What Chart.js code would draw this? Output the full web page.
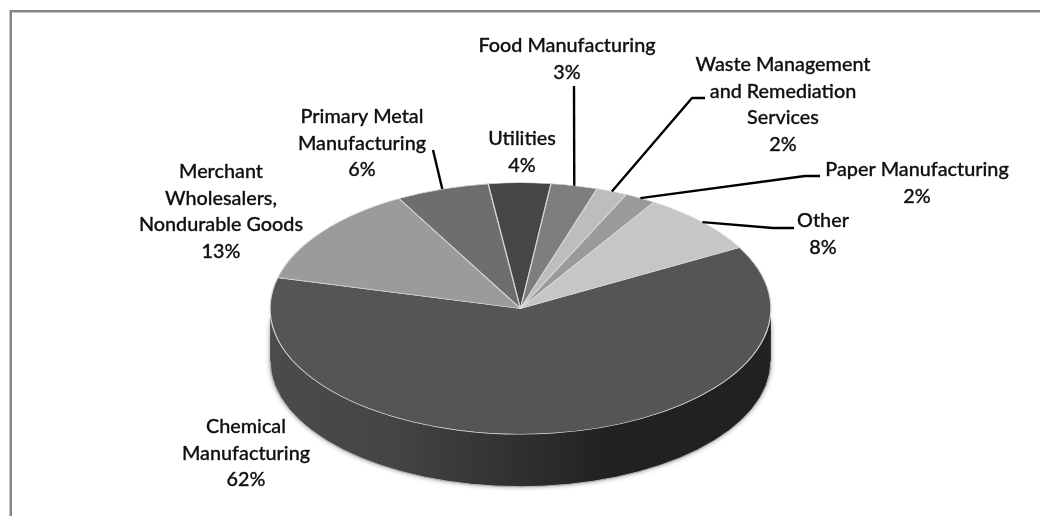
<!DOCTYPE html>
<html>
<head>
<meta charset="utf-8">
<style>
  html, body { margin: 0; padding: 0; background: #fff; }
  #wrap { width: 1040px; height: 516px; position: relative; }
</style>
<script src="https://cdn.jsdelivr.net/npm/chart.js@4"></script>
</head>
<body>
<div id="wrap"><canvas id="pie" width="1040" height="516"></canvas></div>
<script>
const categories = ['Chemical Manufacturing', 'Merchant Wholesalers, Nondurable Goods', 'Primary Metal Manufacturing',
  'Utilities', 'Food Manufacturing', 'Waste Management and Remediation Services', 'Paper Manufacturing', 'Other'];
const shares = [62, 13, 6, 4, 3, 2, 2, 8];
const sliceColors = ['#555555', '#9b9b9b', '#6e6e6e', '#464646', '#7e7e7e', '#bdbdbd', '#9a9a9a', '#c6c6c6'];

// Wrapped label lines, centre x, and y of the first line centre, per slice.
const labelLines = [
  ['Chemical', 'Manufacturing'],
  ['Merchant', 'Wholesalers,', 'Nondurable Goods'],
  ['Primary Metal', 'Manufacturing'],
  ['Utilities'],
  ['Food Manufacturing'],
  ['Waste Management', 'and Remediation', 'Services'],
  ['Paper Manufacturing'],
  ['Other']
];
const labelX = [246, 221, 362, 522, 567, 783, 917, 823];
const labelY = [427, 172, 117, 139, 46, 65, 170, 221];
// Leader polylines run from the slice rim through these elbows; null means no leader.
const leaderElbows = [
  null, null,
  [[433, 150]],
  null,
  [[574, 86]],
  [[692, 98], [705, 98]],
  [[805, 176], [820, 176]],
  [[773, 228], [794, 228]]
];

const TILT = 126 / 251;      // vertical squash of the pie disc
const DEPTH = 52.5;          // height of the extruded side
const CENTER_Y = 308.5;      // where the disc centre sits on the page
const LINE_H = 26.4;

const tiltedPie = {
  id: 'tiltedPie',
  beforeDraw(chart) {
    const c = chart.ctx;
    c.save();
    c.fillStyle = '#ffffff';
    c.fillRect(0, 0, chart.width, chart.height);
    // The frame only shows along its top and left edges.
    c.fillStyle = '#868686';
    c.fillRect(10, 10, chart.width - 10, 2.5);
    c.fillRect(9.5, 10, 2.5, chart.height - 10);
    c.restore();
  },
  beforeDatasetsDraw(chart) {
    const c = chart.ctx;
    const arcs = chart.getDatasetMeta(0).data;
    const a0 = arcs[0];
    const rx = a0.outerRadius, ry = rx * TILT;
    const cx = a0.x;

    // Side wall: front half of the ellipse, extruded downward.
    c.save();
    const grad = c.createLinearGradient(cx - rx, 0, cx + 90, 0);
    grad.addColorStop(0, '#4b4b4b');
    grad.addColorStop(0.35, '#454545');
    grad.addColorStop(1, '#212121');
    c.beginPath();
    c.ellipse(cx, CENTER_Y, rx, ry, 0, 0, Math.PI);
    c.ellipse(cx, CENTER_Y + DEPTH, rx, ry, 0, Math.PI, 0, true);
    c.closePath();
    c.shadowColor = 'rgba(0,0,0,0.45)';
    c.shadowBlur = 5;
    c.fillStyle = grad;
    c.fill();
    c.shadowColor = 'transparent';
    c.beginPath();
    c.ellipse(cx, CENTER_Y + DEPTH, rx, ry, 0, Math.PI, 0, true);
    c.strokeStyle = '#b5b5b5';
    c.lineWidth = 1;
    c.stroke();
    c.restore();

    // Everything the library draws next lands on the squashed disc.
    c.save();
    c.translate(0, CENTER_Y);
    c.scale(1, TILT);
    c.translate(0, -a0.y);
  },
  afterDatasetsDraw(chart) {
    const c = chart.ctx;
    c.restore();
    const arcs = chart.getDatasetMeta(0).data;

    c.save();
    c.strokeStyle = '#000000';
    c.lineWidth = 2.4;
    c.lineJoin = 'round';
    arcs.forEach((arc, i) => {
      const elbows = leaderElbows[i];
      if (!elbows) return;
      const mid = (arc.startAngle + arc.endAngle) / 2;
      c.beginPath();
      c.moveTo(arc.x + arc.outerRadius * Math.cos(mid),
               CENTER_Y + arc.outerRadius * TILT * Math.sin(mid));
      elbows.forEach(p => c.lineTo(p[0], p[1]));
      c.stroke();
    });

    c.fillStyle = '#111111';
    c.strokeStyle = 'rgba(0,0,0,0.7)';
    c.lineWidth = 0.4;
    c.font = '500 19.8px Lato, "Open Sans", sans-serif';
    c.textAlign = 'center';
    c.textBaseline = 'middle';
    categories.forEach((name, i) => {
      const lines = labelLines[i].concat(shares[i] + '%');
      lines.forEach((t, k) => {
        c.fillText(t, labelX[i], labelY[i] + k * LINE_H);
        c.strokeText(t, labelX[i], labelY[i] + k * LINE_H);
      });
    });
    c.restore();
  }
};

new Chart(document.getElementById('pie'), {
  type: 'pie',
  data: {
    labels: categories,
    datasets: [{
      data: shares,
      backgroundColor: sliceColors,
      borderColor: '#d8d8d8',
      borderWidth: 1.2
    }]
  },
  options: {
    responsive: false,
    animation: false,
    rotation: 61,
    layout: { padding: { top: 7, bottom: 7, left: 269, right: 268 } },
    plugins: { legend: { display: false }, tooltip: { enabled: false } }
  },
  plugins: [tiltedPie]
});
</script>
</body>
</html>
